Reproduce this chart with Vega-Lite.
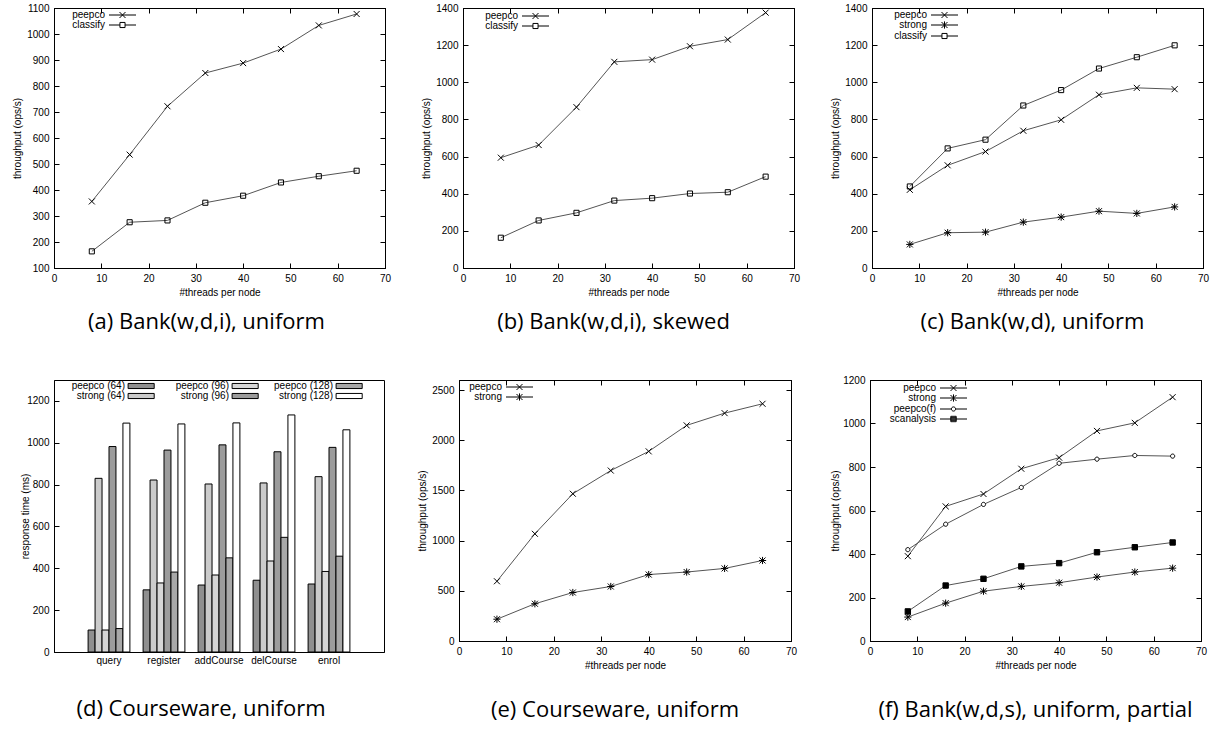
{
 "$schema": "https://vega.github.io/schema/vega-lite/v6.json",
 "background": "white",
 "padding": {"left": 12, "top": 2, "right": 3, "bottom": 0},
 "resolve": {"scale": {"shape": "independent", "fill": "independent"}, "legend": {"shape": "independent", "fill": "independent"}},
 "config": {
  "font": "Liberation Sans",
  "numberFormat": "d",
  "view": {"stroke": "black", "strokeWidth": 1},
  "axis": {"grid": false, "domainColor": "black", "tickColor": "black", "tickSize": -5, "labelPadding": 10, "labelFontSize": 10, "titleFontSize": 10, "titleFontWeight": "normal", "labelColor": "black", "titleColor": "black", "labelFont": "Liberation Sans", "titleFont": "Liberation Sans", "labelFlush": false, "labelOverlap": false},
  "title": {"font": "Open Sans", "fontSize": 22, "fontWeight": "normal", "color": "black", "orient": "bottom", "offset": 15},
  "legend": {"labelAlign": "right", "labelOffset": 0, "padding": 0, "rowPadding": -3, "symbolSize": 36, "labelFontSize": 10, "labelFont": "Liberation Sans", "labelColor": "black", "symbolStrokeColor": "black", "symbolStrokeWidth": 1, "orient": "none"}
 },
 "datasets": {
  "a": [
   {"series": "peepco", "threads": 8, "ops": 356}, {"series": "peepco", "threads": 16, "ops": 536}, {"series": "peepco", "threads": 24, "ops": 722}, {"series": "peepco", "threads": 32, "ops": 850}, {"series": "peepco", "threads": 40, "ops": 888}, {"series": "peepco", "threads": 48, "ops": 942}, {"series": "peepco", "threads": 56, "ops": 1033}, {"series": "peepco", "threads": 64, "ops": 1077},
   {"series": "classify", "threads": 8, "ops": 164}, {"series": "classify", "threads": 16, "ops": 276}, {"series": "classify", "threads": 24, "ops": 283}, {"series": "classify", "threads": 32, "ops": 351}, {"series": "classify", "threads": 40, "ops": 378}, {"series": "classify", "threads": 48, "ops": 429}, {"series": "classify", "threads": 56, "ops": 453}, {"series": "classify", "threads": 64, "ops": 474}
  ],
  "b": [
   {"series": "peepco", "threads": 8, "ops": 594}, {"series": "peepco", "threads": 16, "ops": 662}, {"series": "peepco", "threads": 24, "ops": 866}, {"series": "peepco", "threads": 32, "ops": 1110}, {"series": "peepco", "threads": 40, "ops": 1122}, {"series": "peepco", "threads": 48, "ops": 1194}, {"series": "peepco", "threads": 56, "ops": 1230}, {"series": "peepco", "threads": 64, "ops": 1375},
   {"series": "classify", "threads": 8, "ops": 163}, {"series": "classify", "threads": 16, "ops": 256}, {"series": "classify", "threads": 24, "ops": 297}, {"series": "classify", "threads": 32, "ops": 363}, {"series": "classify", "threads": 40, "ops": 376}, {"series": "classify", "threads": 48, "ops": 401}, {"series": "classify", "threads": 56, "ops": 408}, {"series": "classify", "threads": 64, "ops": 492}
  ],
  "c": [
   {"series": "peepco", "threads": 8, "ops": 421}, {"series": "peepco", "threads": 16, "ops": 553}, {"series": "peepco", "threads": 24, "ops": 627}, {"series": "peepco", "threads": 32, "ops": 739}, {"series": "peepco", "threads": 40, "ops": 798}, {"series": "peepco", "threads": 48, "ops": 933}, {"series": "peepco", "threads": 56, "ops": 970}, {"series": "peepco", "threads": 64, "ops": 963},
   {"series": "strong", "threads": 8, "ops": 127}, {"series": "strong", "threads": 16, "ops": 190}, {"series": "strong", "threads": 24, "ops": 193}, {"series": "strong", "threads": 32, "ops": 247}, {"series": "strong", "threads": 40, "ops": 274}, {"series": "strong", "threads": 48, "ops": 306}, {"series": "strong", "threads": 56, "ops": 294}, {"series": "strong", "threads": 64, "ops": 329},
   {"series": "classify", "threads": 8, "ops": 439}, {"series": "classify", "threads": 16, "ops": 644}, {"series": "classify", "threads": 24, "ops": 691}, {"series": "classify", "threads": 32, "ops": 875}, {"series": "classify", "threads": 40, "ops": 958}, {"series": "classify", "threads": 48, "ops": 1074}, {"series": "classify", "threads": 56, "ops": 1135}, {"series": "classify", "threads": 64, "ops": 1199}
  ],
  "d": [
   {"op": "query", "series": "peepco (64)", "ms": 105}, {"op": "query", "series": "strong (64)", "ms": 830}, {"op": "query", "series": "peepco (96)", "ms": 105}, {"op": "query", "series": "strong (96)", "ms": 982}, {"op": "query", "series": "peepco (128)", "ms": 112}, {"op": "query", "series": "strong (128)", "ms": 1094},
   {"op": "register", "series": "peepco (64)", "ms": 297}, {"op": "register", "series": "strong (64)", "ms": 822}, {"op": "register", "series": "peepco (96)", "ms": 330}, {"op": "register", "series": "strong (96)", "ms": 965}, {"op": "register", "series": "peepco (128)", "ms": 382}, {"op": "register", "series": "strong (128)", "ms": 1090},
   {"op": "addCourse", "series": "peepco (64)", "ms": 320}, {"op": "addCourse", "series": "strong (64)", "ms": 803}, {"op": "addCourse", "series": "peepco (96)", "ms": 368}, {"op": "addCourse", "series": "strong (96)", "ms": 990}, {"op": "addCourse", "series": "peepco (128)", "ms": 450}, {"op": "addCourse", "series": "strong (128)", "ms": 1095},
   {"op": "delCourse", "series": "peepco (64)", "ms": 343}, {"op": "delCourse", "series": "strong (64)", "ms": 808}, {"op": "delCourse", "series": "peepco (96)", "ms": 435}, {"op": "delCourse", "series": "strong (96)", "ms": 957}, {"op": "delCourse", "series": "peepco (128)", "ms": 548}, {"op": "delCourse", "series": "strong (128)", "ms": 1133},
   {"op": "enrol", "series": "peepco (64)", "ms": 325}, {"op": "enrol", "series": "strong (64)", "ms": 838}, {"op": "enrol", "series": "peepco (96)", "ms": 385}, {"op": "enrol", "series": "strong (96)", "ms": 978}, {"op": "enrol", "series": "peepco (128)", "ms": 458}, {"op": "enrol", "series": "strong (128)", "ms": 1062}
  ],
  "e": [
   {"series": "peepco", "threads": 8, "ops": 595}, {"series": "peepco", "threads": 16, "ops": 1068}, {"series": "peepco", "threads": 24, "ops": 1467}, {"series": "peepco", "threads": 32, "ops": 1698}, {"series": "peepco", "threads": 40, "ops": 1889}, {"series": "peepco", "threads": 48, "ops": 2148}, {"series": "peepco", "threads": 56, "ops": 2270}, {"series": "peepco", "threads": 64, "ops": 2363},
   {"series": "strong", "threads": 8, "ops": 217}, {"series": "strong", "threads": 16, "ops": 371}, {"series": "strong", "threads": 24, "ops": 483}, {"series": "strong", "threads": 32, "ops": 543}, {"series": "strong", "threads": 40, "ops": 662}, {"series": "strong", "threads": 48, "ops": 687}, {"series": "strong", "threads": 56, "ops": 723}, {"series": "strong", "threads": 64, "ops": 802}
  ],
  "f": [
   {"series": "peepco", "threads": 8, "ops": 390}, {"series": "peepco", "threads": 16, "ops": 619}, {"series": "peepco", "threads": 24, "ops": 676}, {"series": "peepco", "threads": 32, "ops": 792}, {"series": "peepco", "threads": 40, "ops": 843}, {"series": "peepco", "threads": 48, "ops": 966}, {"series": "peepco", "threads": 56, "ops": 1003}, {"series": "peepco", "threads": 64, "ops": 1121},
   {"series": "strong", "threads": 8, "ops": 110}, {"series": "strong", "threads": 16, "ops": 174}, {"series": "strong", "threads": 24, "ops": 229}, {"series": "strong", "threads": 32, "ops": 251}, {"series": "strong", "threads": 40, "ops": 268}, {"series": "strong", "threads": 48, "ops": 294}, {"series": "strong", "threads": 56, "ops": 317}, {"series": "strong", "threads": 64, "ops": 335},
   {"series": "peepco(f)", "threads": 8, "ops": 420}, {"series": "peepco(f)", "threads": 16, "ops": 537}, {"series": "peepco(f)", "threads": 24, "ops": 628}, {"series": "peepco(f)", "threads": 32, "ops": 706}, {"series": "peepco(f)", "threads": 40, "ops": 817}, {"series": "peepco(f)", "threads": 48, "ops": 836}, {"series": "peepco(f)", "threads": 56, "ops": 853}, {"series": "peepco(f)", "threads": 64, "ops": 850},
   {"series": "scanalysis", "threads": 8, "ops": 136}, {"series": "scanalysis", "threads": 16, "ops": 255}, {"series": "scanalysis", "threads": 24, "ops": 286}, {"series": "scanalysis", "threads": 32, "ops": 343}, {"series": "scanalysis", "threads": 40, "ops": 358}, {"series": "scanalysis", "threads": 48, "ops": 408}, {"series": "scanalysis", "threads": 56, "ops": 431}, {"series": "scanalysis", "threads": 64, "ops": 453}
  ]
 },
 "vconcat": [
  {
   "resolve": {"scale": {"shape": "independent", "fill": "independent"}, "legend": {"shape": "independent", "fill": "independent"}},
   "hconcat": [
    {
     "width": 331, "height": 260,
     "title": {"text": "(a) Bank(w,d,i), uniform", "dx": -13},
     "data": {"name": "a"},
     "layer": [
      {"mark": {"type": "line", "stroke": "#555", "strokeWidth": 1},
       "encoding": {
        "x": {"field": "threads", "type": "quantitative", "scale": {"domain": [0, 70]}, "axis": {"title": "#threads per node", "values": [0, 10, 20, 30, 40, 50, 60, 70]}},
        "y": {"field": "ops", "type": "quantitative", "scale": {"domain": [100, 1100]}, "axis": {"title": "throughput (ops/s)", "values": [100, 200, 300, 400, 500, 600, 700, 800, 900, 1000, 1100]}},
        "detail": {"field": "series"}}},
      {"mark": {"type": "point", "filled": true, "stroke": "black", "strokeWidth": 1, "size": 36, "opacity": 1},
       "encoding": {
        "x": {"field": "threads", "type": "quantitative", "axis": {"orient": "top", "labels": false, "title": null, "values": [0, 10, 20, 30, 40, 50, 60, 70]}},
        "y": {"field": "ops", "type": "quantitative", "axis": {"orient": "right", "labels": false, "title": null, "values": [100, 200, 300, 400, 500, 600, 700, 800, 900, 1000, 1100]}},
        "shape": {"field": "series", "type": "nominal", "scale": {"domain": ["peepco", "classify"], "range": ["M-1,-1L1,1M-1,1L1,-1", "M-0.85,-0.85L0.85,-0.85L0.85,0.85L-0.85,0.85Z"]}, "legend": null},
        "fill": {"field": "series", "type": "nominal", "scale": {"domain": ["peepco", "classify"], "range": ["transparent", "transparent"]}, "legend": null}}},
      {"transform": [{"filter": "datum.threads < 0"}],
       "mark": {"type": "point", "filled": false, "stroke": "black", "color": "black", "strokeWidth": 1, "size": 36, "opacity": 1},
       "encoding": {
        "x": {"field": "threads", "type": "quantitative", "axis": null},
        "y": {"field": "ops", "type": "quantitative", "axis": null},
        "shape": {"field": "series", "type": "nominal", "scale": {"domain": ["peepco", "classify"], "range": ["M-18,0M3,0L12,0M6.5,-1L8.5,1M6.5,1L8.5,-1", "M-18,0M3,0L6.65,0M8.35,0L12,0M6.65,-0.85L8.35,-0.85L8.35,0.85L6.65,0.85Z"]},
         "legend": {"title": null, "legendX": 41, "legendY": 2}}}}
     ],
     "resolve": {"axis": {"x": "independent", "y": "independent"}, "scale": {"shape": "independent"}}
    },
    {
     "width": 331, "height": 260,
     "title": {"text": "(b) Bank(w,d,i), skewed", "dx": -15},
     "data": {"name": "b"},
     "layer": [
      {"mark": {"type": "line", "stroke": "#555", "strokeWidth": 1},
       "encoding": {
        "x": {"field": "threads", "type": "quantitative", "scale": {"domain": [0, 70]}, "axis": {"title": "#threads per node", "values": [0, 10, 20, 30, 40, 50, 60, 70]}},
        "y": {"field": "ops", "type": "quantitative", "scale": {"domain": [0, 1400]}, "axis": {"title": "throughput (ops/s)", "values": [0, 200, 400, 600, 800, 1000, 1200, 1400]}},
        "detail": {"field": "series"}}},
      {"mark": {"type": "point", "filled": true, "stroke": "black", "strokeWidth": 1, "size": 36, "opacity": 1},
       "encoding": {
        "x": {"field": "threads", "type": "quantitative", "axis": {"orient": "top", "labels": false, "title": null, "values": [0, 10, 20, 30, 40, 50, 60, 70]}},
        "y": {"field": "ops", "type": "quantitative", "axis": {"orient": "right", "labels": false, "title": null, "values": [0, 200, 400, 600, 800, 1000, 1200, 1400]}},
        "shape": {"field": "series", "type": "nominal", "scale": {"domain": ["peepco", "classify"], "range": ["M-1,-1L1,1M-1,1L1,-1", "M-0.85,-0.85L0.85,-0.85L0.85,0.85L-0.85,0.85Z"]}, "legend": null},
        "fill": {"field": "series", "type": "nominal", "scale": {"domain": ["peepco", "classify"], "range": ["transparent", "transparent"]}, "legend": null}}},
      {"transform": [{"filter": "datum.threads < 0"}],
       "mark": {"type": "point", "filled": false, "stroke": "black", "color": "black", "strokeWidth": 1, "size": 36, "opacity": 1},
       "encoding": {
        "x": {"field": "threads", "type": "quantitative", "axis": null},
        "y": {"field": "ops", "type": "quantitative", "axis": null},
        "shape": {"field": "series", "type": "nominal", "scale": {"domain": ["peepco", "classify"], "range": ["M-18,0M3,0L12,0M6.5,-1L8.5,1M6.5,1L8.5,-1", "M-18,0M3,0L6.65,0M8.35,0L12,0M6.65,-0.85L8.35,-0.85L8.35,0.85L6.65,0.85Z"]},
         "legend": {"title": null, "legendX": 45, "legendY": 3}}}}
     ],
     "resolve": {"axis": {"x": "independent", "y": "independent"}, "scale": {"shape": "independent"}}
    },
    {
     "width": 331, "height": 260,
     "title": {"text": "(c) Bank(w,d), uniform", "dx": -5},
     "data": {"name": "c"},
     "layer": [
      {"mark": {"type": "line", "stroke": "#555", "strokeWidth": 1},
       "encoding": {
        "x": {"field": "threads", "type": "quantitative", "scale": {"domain": [0, 70]}, "axis": {"title": "#threads per node", "values": [0, 10, 20, 30, 40, 50, 60, 70]}},
        "y": {"field": "ops", "type": "quantitative", "scale": {"domain": [0, 1400]}, "axis": {"title": "throughput (ops/s)", "values": [0, 200, 400, 600, 800, 1000, 1200, 1400]}},
        "detail": {"field": "series"}}},
      {"mark": {"type": "point", "filled": true, "stroke": "black", "strokeWidth": 1, "size": 36, "opacity": 1},
       "encoding": {
        "x": {"field": "threads", "type": "quantitative", "axis": {"orient": "top", "labels": false, "title": null, "values": [0, 10, 20, 30, 40, 50, 60, 70]}},
        "y": {"field": "ops", "type": "quantitative", "axis": {"orient": "right", "labels": false, "title": null, "values": [0, 200, 400, 600, 800, 1000, 1200, 1400]}},
        "shape": {"field": "series", "type": "nominal", "scale": {"domain": ["peepco", "strong", "classify"], "range": ["M-1,-1L1,1M-1,1L1,-1", "M-1,-1L1,1M-1,1L1,-1M0,-1.2L0,1.2M-1.2,0L1.2,0", "M-0.85,-0.85L0.85,-0.85L0.85,0.85L-0.85,0.85Z"]}, "legend": null},
        "fill": {"field": "series", "type": "nominal", "scale": {"domain": ["peepco", "strong", "classify"], "range": ["transparent", "transparent", "transparent"]}, "legend": null}}},
      {"transform": [{"filter": "datum.threads < 0"}],
       "mark": {"type": "point", "filled": false, "stroke": "black", "color": "black", "strokeWidth": 1, "size": 36, "opacity": 1},
       "encoding": {
        "x": {"field": "threads", "type": "quantitative", "axis": null},
        "y": {"field": "ops", "type": "quantitative", "axis": null},
        "shape": {"field": "series", "type": "nominal", "scale": {"domain": ["peepco", "strong", "classify"], "range": ["M-18,0M3,0L12,0M6.5,-1L8.5,1M6.5,1L8.5,-1", "M-18,0M3,0L12,0M6.5,-1L8.5,1M6.5,1L8.5,-1M7.5,-1.2L7.5,1.2", "M-18,0M3,0L6.65,0M8.35,0L12,0M6.65,-0.85L8.35,-0.85L8.35,0.85L6.65,0.85Z"]},
         "legend": {"title": null, "legendX": 45, "legendY": 2}}}}
     ],
     "resolve": {"axis": {"x": "independent", "y": "independent"}, "scale": {"shape": "independent"}}
    }
   ],
   "spacing": 29
  },
  {
   "resolve": {"scale": {"shape": "independent", "fill": "independent"}, "legend": {"shape": "independent", "fill": "independent"}},
   "hconcat": [
    {
     "width": 330, "height": 272,
     "title": {"text": "(d) Courseware, uniform", "offset": 34, "dx": -18},
     "data": {"name": "d"},
     "layer": [
      {"mark": {"type": "bar", "stroke": "black", "strokeWidth": 1},
       "encoding": {
        "x": {"field": "op", "type": "nominal", "sort": ["query", "register", "addCourse", "delCourse", "enrol"], "scale": {"paddingInner": 0.24, "paddingOuter": 0.62}, "axis": {"title": null, "labelAngle": 0, "labelPadding": 8}},
        "xOffset": {"field": "series", "type": "nominal", "sort": ["peepco (64)", "strong (64)", "peepco (96)", "strong (96)", "peepco (128)", "strong (128)"], "scale": {"paddingInner": 0, "paddingOuter": 0}},
        "y": {"field": "ms", "type": "quantitative", "scale": {"domain": [0, 1300]}, "axis": {"title": "response time (ms)", "titlePadding": -4, "values": [0, 200, 400, 600, 800, 1000, 1200]}},
        "fill": {"field": "series", "type": "nominal", "scale": {"domain": ["peepco (64)", "strong (64)", "peepco (96)", "strong (96)", "peepco (128)", "strong (128)"], "range": ["#8f8f8f", "#cbcbcb", "#d6d6d6", "#9c9c9c", "#a8a8a8", "#ffffff"]},
         "legend": {"title": null, "columns": 3, "columnPadding": 5, "rowPadding": -5, "legendX": 61, "legendY": 1, "encode": {"symbols": {"update": {"shape": {"value": "M-20,0M2.7,-0.85L11.4,-0.85L11.4,0.85L2.7,0.85Z"}, "stroke": {"value": "black"}, "strokeWidth": {"value": 1}, "strokeOpacity": {"value": 1}}}}}}}}
     ]
    },
    {
     "width": 332, "height": 261,
     "title": {"text": "(e) Courseware, uniform", "offset": 30, "dx": -10},
     "data": {"name": "e"},
     "layer": [
      {"mark": {"type": "line", "stroke": "#555", "strokeWidth": 1},
       "encoding": {
        "x": {"field": "threads", "type": "quantitative", "scale": {"domain": [0, 70]}, "axis": {"title": "#threads per node", "values": [0, 10, 20, 30, 40, 50, 60, 70]}},
        "y": {"field": "ops", "type": "quantitative", "scale": {"domain": [0, 2500]}, "axis": {"title": "throughput (ops/s)", "values": [0, 500, 1000, 1500, 2000, 2500]}},
        "detail": {"field": "series"}}},
      {"mark": {"type": "point", "filled": true, "stroke": "black", "strokeWidth": 1, "size": 36, "opacity": 1},
       "encoding": {
        "x": {"field": "threads", "type": "quantitative", "axis": {"orient": "top", "labels": false, "title": null, "values": [0, 10, 20, 30, 40, 50, 60, 70]}},
        "y": {"field": "ops", "type": "quantitative", "axis": {"orient": "right", "labels": false, "title": null, "values": [0, 500, 1000, 1500, 2000, 2500]}},
        "shape": {"field": "series", "type": "nominal", "scale": {"domain": ["peepco", "strong"], "range": ["M-1,-1L1,1M-1,1L1,-1", "M-1,-1L1,1M-1,1L1,-1M0,-1.2L0,1.2M-1.2,0L1.2,0"]}, "legend": null},
        "fill": {"field": "series", "type": "nominal", "scale": {"domain": ["peepco", "strong"], "range": ["transparent", "transparent"]}, "legend": null}}},
      {"transform": [{"filter": "datum.threads < 0"}],
       "mark": {"type": "point", "filled": false, "stroke": "black", "color": "black", "strokeWidth": 1, "size": 36, "opacity": 1},
       "encoding": {
        "x": {"field": "threads", "type": "quantitative", "axis": null},
        "y": {"field": "ops", "type": "quantitative", "axis": null},
        "shape": {"field": "series", "type": "nominal", "scale": {"domain": ["peepco", "strong"], "range": ["M-18,0M3,0L12,0M6.5,-1L8.5,1M6.5,1L8.5,-1", "M-18,0M3,0L12,0M6.5,-1L8.5,1M6.5,1L8.5,-1M7.5,-1.2L7.5,1.2"]},
         "legend": {"title": null, "legendX": 33, "legendY": 2}}}}
     ],
     "resolve": {"axis": {"x": "independent", "y": "independent"}, "scale": {"shape": "independent"}}
    },
    {
     "width": 331, "height": 261,
     "title": {"text": "(f) Bank(w,d,s), uniform, partial", "offset": 30},
     "data": {"name": "f"},
     "layer": [
      {"mark": {"type": "line", "stroke": "#555", "strokeWidth": 1},
       "encoding": {
        "x": {"field": "threads", "type": "quantitative", "scale": {"domain": [0, 70]}, "axis": {"title": "#threads per node", "values": [0, 10, 20, 30, 40, 50, 60, 70]}},
        "y": {"field": "ops", "type": "quantitative", "scale": {"domain": [0, 1200]}, "axis": {"title": "throughput (ops/s)", "titlePadding": 2, "values": [0, 200, 400, 600, 800, 1000, 1200]}},
        "detail": {"field": "series"}}},
      {"mark": {"type": "point", "filled": true, "stroke": "black", "strokeWidth": 1, "size": 36, "opacity": 1},
       "encoding": {
        "x": {"field": "threads", "type": "quantitative", "axis": {"orient": "top", "labels": false, "title": null, "values": [0, 10, 20, 30, 40, 50, 60, 70]}},
        "y": {"field": "ops", "type": "quantitative", "axis": {"orient": "right", "labels": false, "title": null, "values": [0, 200, 400, 600, 800, 1000, 1200]}},
        "shape": {"field": "series", "type": "nominal", "scale": {"domain": ["peepco", "strong", "peepco(f)", "scanalysis"], "range": ["M-1,-1L1,1M-1,1L1,-1", "M-1,-1L1,1M-1,1L1,-1M0,-1.2L0,1.2M-1.2,0L1.2,0", "M-0.7,0A0.7,0.7,0,1,1,0.7,0A0.7,0.7,0,1,1,-0.7,0", "M-0.9,-0.9L0.9,-0.9L0.9,0.9L-0.9,0.9Z"]}, "legend": null},
        "fill": {"field": "series", "type": "nominal", "scale": {"domain": ["peepco", "strong", "peepco(f)", "scanalysis"], "range": ["transparent", "transparent", "white", "black"]}, "legend": null}}},
      {"transform": [{"filter": "datum.threads < 0"}],
       "mark": {"type": "point", "filled": false, "stroke": "black", "color": "black", "strokeWidth": 1, "size": 36, "opacity": 1},
       "encoding": {
        "x": {"field": "threads", "type": "quantitative", "axis": null},
        "y": {"field": "ops", "type": "quantitative", "axis": null},
        "shape": {"field": "series", "type": "nominal", "scale": {"domain": ["peepco", "strong", "peepco(f)", "scanalysis"], "range": ["M-18,0M3,0L12,0M6.5,-1L8.5,1M6.5,1L8.5,-1", "M-18,0M3,0L12,0M6.5,-1L8.5,1M6.5,1L8.5,-1M7.5,-1.2L7.5,1.2", "M-18,0M3,0L6.8,0M8.2,0L12,0M6.8,0A0.7,0.7,0,1,1,8.2,0A0.7,0.7,0,1,1,6.8,0", "M-18,0M3,0L12,0M6.6,-0.9L8.4,-0.9L8.4,0.9L6.6,0.9ZM6.6,-0.45L8.4,-0.45M6.6,0L8.4,0M6.6,0.45L8.4,0.45"]},
         "legend": {"title": null, "legendX": 56, "legendY": 3}}}}
     ],
     "resolve": {"axis": {"x": "independent", "y": "independent"}, "scale": {"shape": "independent"}}
    }
   ],
   "spacing": 32
  }
 ],
 "spacing": 40
}
